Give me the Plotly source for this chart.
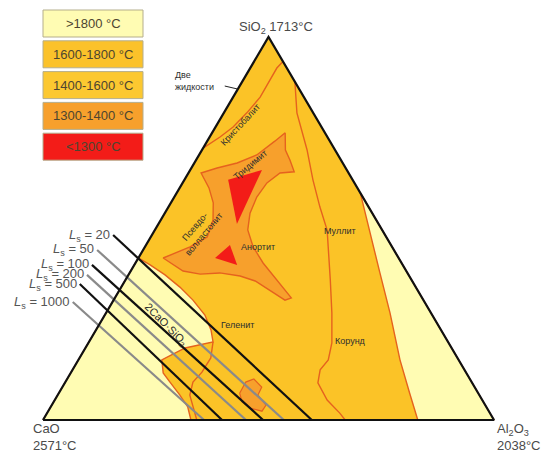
import math
import plotly.graph_objects as go

# Compositions are (SiO2 %, Al2O3 %); CaO is the remainder.
corners = [(0, 0), (0, 100), (100, 0)]  # CaO, Al2O3, SiO2

legend_labels = [">1800 °C", "1600-1800 °C", "1400-1600 °C", "1300-1400 °C", "<1300 °C"]
legend_colors = ["#FFFCB3", "#FBC22A", "#FCC830", "#F7A02C", "#F31C18"]

# >1800 °C field on the CaO side (with the 2CaO·SiO2 bulge)
pale_cao_field = [(0, 0), (42.3, 0), (40.5, 3.5), (37.9, 8.1), (34.7, 13.0), (31.3, 17.6),
                  (27.4, 22.2), (23.5, 25.5), (20.4, 27.5), (18.8, 22.1), (15.7, 18.5),
                  (12.3, 20.5), (9.9, 23.2), (6.5, 27.1), (3.4, 30.4), (0, 32.8)]
# >1800 °C strip along the SiO2-Al2O3 side
pale_al2o3_strip = [(59.3, 40.7), (48.8, 48.1), (38.4, 55.5), (27.9, 63.0), (15.7, 71.3),
                    (7.0, 77.8), (0, 83.1), (0, 100)]
# 1300-1400 °C field (tridymite / pseudowollastonite / anorthite)
field_1300_1400 = [(75.0, 16.2), (70.5, 18.5), (67.9, 20.8), (64.8, 23.3), (64.5, 20.3),
                   (61.9, 18.7), (58.2, 18.3), (54.0, 18.9), (49.6, 20.6), (45.2, 24.0),
                   (41.0, 28.3), (36.6, 33.6), (31.9, 39.1), (31.3, 38.0), (33.9, 33.4),
                   (36.3, 28.9), (37.6, 24.9), (38.4, 20.0), (38.1, 15.8), (38.9, 11.6),
                   (42.3, 5.5), (43.9, 7.8), (45.2, 10.0), (47.8, 12.5), (52.2, 11.6),
                   (56.7, 9.4), (60.6, 6.5), (64.5, 2.8), (65.8, 5.7), (67.1, 9.5),
                   (69.2, 12.8), (72.8, 15.0)]
# small 1300-1400 °C patch in the gehlenite field
patch_1300_1400 = [(7.0, 40.1), (9.9, 40.0), (10.7, 41.4), (8.6, 44.2), (6.5, 44.4),
                   (3.9, 47.5), (2.3, 47.4), (3.1, 44.3), (4.7, 41.8)]
# <1300 °C eutectic areas
below_1300_upper = [(62.7, 9.7), (65.3, 15.9), (51.2, 17.4)]
below_1300_lower = [(42.3, 17.0), (45.7, 18.6), (40.5, 22.8)]

# phase boundaries
two_liquid_line = [(71.0, 0.0), (73.9, 2.3), (76.5, 3.9), (80.2, 5.1), (84.3, 6.0),
                   (88.8, 5.9), (91.9, 5.9), (93.6, 6.4)]
mullite_line = [(88.3, 11.7), (80.2, 16.2), (70.5, 23.3), (62.7, 28.5), (55.6, 33.6),
                (49.6, 38.2), (36.6, 45.4), (27.9, 50.1), (20.1, 54.0), (15.7, 55.4),
                (13.1, 54.9), (9.7, 56.1), (5.2, 60.4), (1.8, 64.9), (0, 67.0)]
gehlenite_line = [(20.4, 27.5), (16.2, 29.1), (12.5, 29.0), (9.9, 28.3), (6.5, 29.3),
                  (3.1, 31.9), (0, 34.1)]
leader_two_liquids = [(87.2, -3.3), (86.4, 0.0)]

# L_s lines: start composition (label end) and Al2O3 % where they meet the CaO-Al2O3 side
ls_values = [20, 50, 100, 200, 500, 1000]
ls_start = [(48.3, -8.6), (44.4, -10.2), (40.5, -9.4), (37.9, -9.2), (35.5, -9.6), (30.8, -8.8)]
ls_base_al2o3 = [59.6, 53.4, 48.8, 45.0, 39.7, 35.7]
ls_colors = ["#111111", "#8a8a8a", "#111111", "#8a8a8a", "#111111", "#8a8a8a"]

H = math.sqrt(3) / 2


def to_xy(points):
    xs = [al + si / 2 for si, al in points]
    ys = [si * H for si, al in points]
    return xs, ys


GOLD = "#FBC327"
PALE = legend_colors[0]
ORANGE = legend_colors[3]
RED = legend_colors[4]
EDGE = "#E5621E"

fig = go.Figure()


def area(points, color, line_color=None, width=0):
    xs, ys = to_xy(points)
    fig.add_trace(go.Scatter(
        x=xs + [xs[0]], y=ys + [ys[0]], mode="lines", fill="toself", fillcolor=color,
        line=dict(color=line_color or color, width=width), hoverinfo="skip", showlegend=False))


def path(points, color, width):
    xs, ys = to_xy(points)
    fig.add_trace(go.Scatter(x=xs, y=ys, mode="lines", line=dict(color=color, width=width),
                             hoverinfo="skip", showlegend=False))


area(corners, GOLD)
area(pale_cao_field, PALE, EDGE, 1.4)
area(pale_al2o3_strip, PALE, EDGE, 1.4)
area(field_1300_1400, ORANGE, EDGE, 1.4)
area(patch_1300_1400, ORANGE, EDGE, 1.2)
area(below_1300_upper, RED)
area(below_1300_lower, RED)
path(two_liquid_line, EDGE, 1.4)
path(mullite_line, EDGE, 1.4)
path(gehlenite_line, EDGE, 1.4)

for start, base, col in zip(ls_start, ls_base_al2o3, ls_colors):
    path([start, (0, base)], col, 2.2)

path(corners + [corners[0]], "#111111", 2.2)
path(leader_two_liquids, "#222222", 1)

TXT = "#2e2e2e"
# L_s labels
for start, val in zip(ls_start, ls_values):
    x, y = to_xy([start])
    fig.add_annotation(x=x[0], y=y[0], text=f"<i>L</i><sub>s</sub> = {val}", showarrow=False,
                       xanchor="right", yanchor="middle", xshift=-1,
                       font=dict(family="Liberation Sans, Arial", size=13, color="#555555"))

# phase-field names: text, composition, angle, size
phase_labels = [
    ("Кристобалит", (77.0, 5.2), -47, 9),
    ("Тридимит", (66.6, 12.6), -40, 9),
    ("Псевдо-<br>волластонит", (49.6, 10.0), -50, 9),
    ("Анортит", (45.2, 25.1), 0, 9),
    ("Муллит", (49.3, 41.2), 0, 9),
    ("Корунд", (20.6, 57.8), 0, 9),
    ("Геленит", (24.8, 30.8), 0, 9),
    ("2CaO·SiO<sub>2</sub>", (24.8, 14.8), 45, 11),
]
for text, comp, ang, size in phase_labels:
    x, y = to_xy([comp])
    fig.add_annotation(x=x[0], y=y[0], text=text, showarrow=False, textangle=ang,
                       xanchor="center", yanchor="middle",
                       font=dict(family="Liberation Sans, Arial", size=size, color=TXT))

x, y = to_xy([(88.5, -15.5)])
fig.add_annotation(x=x[0], y=y[0], text="Две<br>жидкости", showarrow=False, align="left",
                   xanchor="left", yanchor="middle",
                   font=dict(family="Liberation Sans, Arial", size=9, color=TXT))

# vertex labels
VFONT = dict(family="Liberation Sans, Arial", size=13, color="#4a4a4a")
fig.add_annotation(x=276 / 542, y=1 - 28 / 453, xref="paper", yref="paper",
                   xanchor="center", yanchor="middle",
                   text="SiO<sub>2</sub> 1713°C", showarrow=False, font=VFONT)
fig.add_annotation(x=31 / 542, y=1 - 437 / 453, xref="paper", yref="paper", xanchor="left",
                   yanchor="middle", align="left", text="CaO<br>2571°C", showarrow=False,
                   font=VFONT)
fig.add_annotation(x=495 / 542, y=1 - 437 / 453, xref="paper", yref="paper", xanchor="left",
                   yanchor="middle", align="left",
                   text="Al<sub>2</sub>O<sub>3</sub><br>2038°C", showarrow=False, font=VFONT)

# temperature key
for i, (lab, col) in enumerate(zip(legend_labels, legend_colors)):
    top = 10 + i * 30.8
    y0 = 1 - (top + 27) / 453
    y1 = 1 - top / 453
    fig.add_shape(type="rect", xref="paper", yref="paper", x0=43 / 542, x1=143 / 542,
                  y0=y0, y1=y1, fillcolor=col, line=dict(color="#B5AE8C", width=1))
    fig.add_annotation(x=93 / 542, y=(y0 + y1) / 2, xref="paper", yref="paper", text=lab,
                       showarrow=False, xanchor="center", yanchor="middle",
                       font=dict(family="Liberation Sans, Arial", size=13, color="#4d4530"))

fig.update_layout(
    width=542, height=453, margin=dict(l=0, r=0, t=0, b=0),
    paper_bgcolor="white", plot_bgcolor="white",
    xaxis=dict(range=[-9.534, 110.64], visible=False, fixedrange=True),
    yaxis=dict(range=[-7.462, 94.97], visible=False, fixedrange=True),
    showlegend=False,
)

fig.write_html("out.html")
